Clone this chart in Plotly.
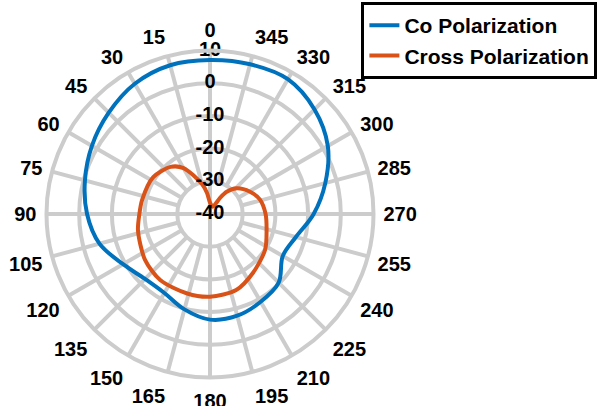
import plotly.graph_objects as go

# ---- data ----
co_theta = [0, 15, 30, 45, 60, 75, 90, 105, 120, 135, 150, 165, 180, 195, 210,
            225, 240, 255, 270, 285, 300, 315, 330, 345, 360]
co_db = [7.1, 7.1, 6.0, 3.8, 1.7, -0.4, -2.4, -5.0, -9.3, -11.9, -12.1, -9.8, -7.7,
         -7.8, -9.0, -10.3, -14.3, -12.8, -8.3, -3.5, 1.6, 5.2, 7.6, 7.4, 7.1]

cross_theta = [0, 8, 15, 30, 40, 57, 78, 90, 103, 125, 143, 164, 180, 199, 216,
               237, 254, 270, 286, 299, 314, 323, 328, 340, 360]
cross_db = [-36.5, -33.5, -30.5, -23.8, -21.2, -19.3, -18.8, -18.4, -17.4, -15.7,
            -14.7, -14.7, -14.7, -15.4, -17.7, -19.9, -22.0, -23.0, -24.1, -26.0,
            -28.7, -31.5, -34.2, -37.6, -36.5]

angle_ticks = list(range(0, 360, 15))
angle_labels = [str(a) for a in angle_ticks]
radial_ticks = [10, 0, -10, -20, -30, -40]
radial_labels = [str(v) for v in radial_ticks]
r_min, r_max = -40, 10

GRID = "rgb(204,204,204)"
FONT = dict(family="Arial, Liberation Sans, sans-serif", size=20, color="black", weight="bold")

fig = go.Figure()

# spokes: full lines on the main axes, others start at the -30 ring
sp_theta, sp_r = [], []
for a in angle_ticks:
    start = r_min if a % 90 == 0 else -30
    sp_theta += [a, a, None]
    sp_r += [start, r_max, None]
fig.add_trace(go.Scatterpolar(theta=sp_theta, r=sp_r, mode="lines",
                              line=dict(color=GRID, width=4),
                              showlegend=False, hoverinfo="skip"))

fig.add_trace(go.Scatterpolar(theta=co_theta, r=co_db, mode="lines", name="Co Polarization",
                              line=dict(color="#0072BD", width=4, shape="spline", smoothing=1)))
fig.add_trace(go.Scatterpolar(theta=cross_theta, r=cross_db, mode="lines", name="Cross Polarization",
                              line=dict(color="#D95319", width=4, shape="spline", smoothing=0.8)))

fig.add_trace(go.Scatterpolar(theta=[0] * len(radial_ticks), r=radial_ticks, mode="text",
                              text=radial_labels, textposition="middle center",
                              textfont=FONT, showlegend=False, hoverinfo="skip"))

W, H = 601, 406
cx, cy, R = 210, 214, 163.5
fig.update_layout(
    width=W, height=H,
    margin=dict(l=0, r=0, t=0, b=0),
    paper_bgcolor="white",
    font=FONT,
    polar=dict(
        domain=dict(x=[(cx - R) / W, (cx + R) / W], y=[1 - (cy + R) / H, 1 - (cy - R) / H]),
        bgcolor="white",
        angularaxis=dict(rotation=90, direction="counterclockwise",
                         tickmode="array", tickvals=angle_ticks, ticktext=angle_labels,
                         showgrid=False, showline=True, linecolor=GRID, linewidth=4,
                         ticks="outside", ticklen=4, tickcolor="rgba(0,0,0,0)",
                         tickfont=FONT),
        radialaxis=dict(range=[r_min, r_max], tickmode="array", tickvals=[-30, -20, -10, 0],
                        showticklabels=False, ticks="", showline=False,
                        gridcolor=GRID, gridwidth=4, angle=90),
    ),
    legend=dict(x=0.994, xanchor="right", y=0.995, yanchor="top",
                bordercolor="black", borderwidth=3, bgcolor="white",
                font=dict(family="Arial, Liberation Sans, sans-serif", size=21,
                          color="black", weight="bold"),
                itemwidth=30, tracegroupgap=0),
)

fig.write_html("out.html", config={"displayModeBar": False},
               post_script="document.body.style.margin='0';document.body.style.overflow='hidden';")
